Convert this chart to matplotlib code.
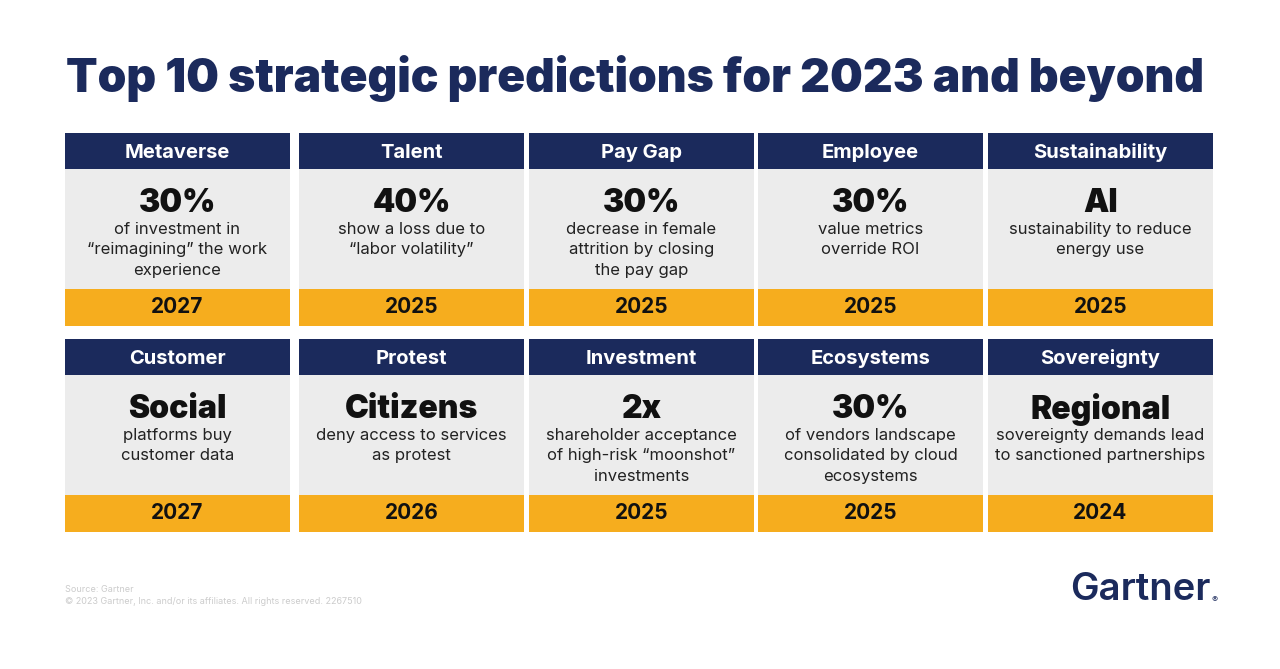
import matplotlib.pyplot as plt
from matplotlib.patches import Rectangle

# card contents, row by row
categories = ["Metaverse", "Talent", "Pay Gap", "Employee", "Sustainability",
              "Customer", "Protest", "Investment", "Ecosystems", "Sovereignty"]
headlines = ["30%", "40%", "30%", "30%", "AI",
             "Social", "Citizens", "2x", "30%", "Regional"]
descriptions = [
    "of investment in\n\u201creimagining\u201d the work\nexperience",
    "show a loss due to\n\u201clabor volatility\u201d",
    "decrease in female\nattrition by closing\nthe pay gap",
    "value metrics\noverride ROI",
    "sustainability to reduce\nenergy use",
    "platforms buy\ncustomer data",
    "deny access to services\nas protest",
    "shareholder acceptance\nof high-risk \u201cmoonshot\u201d\ninvestments",
    "of vendors landscape\nconsolidated by cloud\necosystems",
    "sovereignty demands lead\nto sanctioned partnerships",
]
years = ["2027", "2025", "2025", "2025", "2025",
         "2027", "2026", "2025", "2025", "2024"]

navy = "#1b2a5c"
yellow = "#f6ad1e"
gray = "#ececec"

plt.rcParams['font.family'] = ['Inter', 'DejaVu Sans']

fig = plt.figure(figsize=(12.8, 6.69), dpi=100)
ax = fig.add_axes([0, 0, 1, 1])
ax.set_xlim(0, 1280)
ax.set_ylim(669, 0)
ax.axis('off')

ax.text(635, 78, "Top 10 strategic predictions for 2023 and beyond", color=navy,
        fontsize=33.2, fontweight='black', ha='center', va='center')

col_x = [65, 299, 529, 758, 988]
card_w = 225
row_y = [133, 339]

for i, cat in enumerate(categories):
    r, c = divmod(i, 5)
    x0, y0 = col_x[c], row_y[r]
    cx = x0 + card_w / 2
    ax.add_patch(Rectangle((x0, y0), card_w, 36, color=navy, lw=0))
    ax.add_patch(Rectangle((x0, y0 + 36), card_w, 120, color=gray, lw=0))
    ax.add_patch(Rectangle((x0, y0 + 156), card_w, 37, color=yellow, lw=0))
    ax.text(cx, y0 + 20, cat, color='white', fontsize=14.5, fontweight='bold',
            ha='center', va='center')
    ax.text(cx, y0 + 71, headlines[i], color='#111111', fontsize=23, fontweight='black',
            ha='center', va='center')
    ax.text(cx, y0 + 89, descriptions[i], color='#222222', fontsize=12,
            ha='center', va='top', linespacing=1.45)
    ax.text(cx, y0 + 174, years[i], color='#111111', fontsize=15, fontweight='bold',
            ha='center', va='center')

ax.text(65, 589, "Source: Gartner", color='#cccccc', fontsize=6.5, va='center')
ax.text(65, 601, "\u00a9 2023 Gartner, Inc. and/or its affiliates. All rights reserved. 2267510",
        color='#cccccc', fontsize=6.5, va='center')

ax.text(1210, 590, "Gartner", color=navy, fontsize=27.5, fontweight='semibold',
        ha='right', va='center')
ax.text(1211, 600, "\u00ae", color=navy, fontsize=6.5, ha='left', va='center')

fig.savefig("out.png", dpi=100, facecolor='white')
